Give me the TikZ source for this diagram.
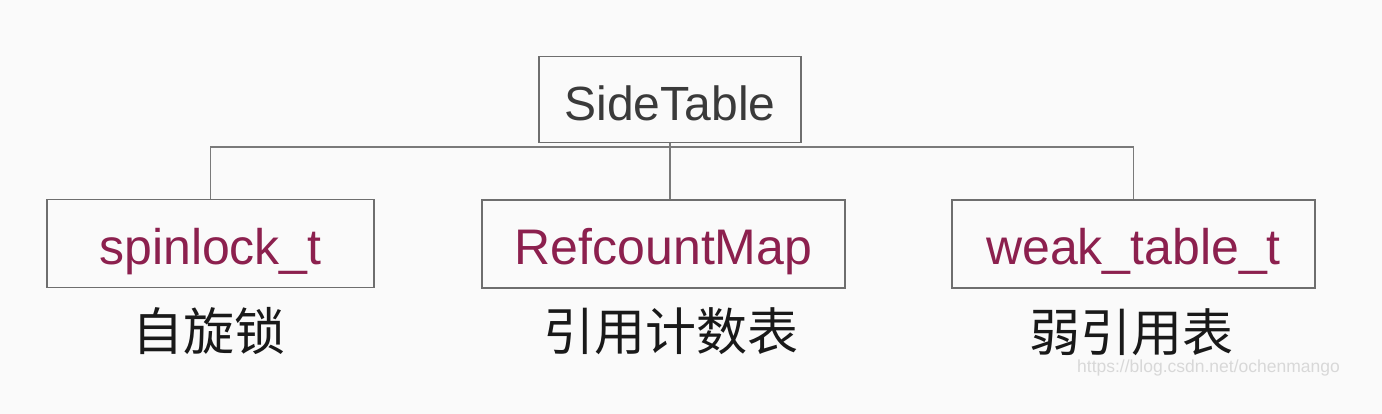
\documentclass[tikz,border=0pt]{standalone}
\usepackage{fontspec}
\setmainfont{Liberation Sans}
\newfontfamily\cjk{Noto Sans CJK SC}
\definecolor{bg}{HTML}{FAFAFA}
\definecolor{boxline}{HTML}{6E6E6E}
\definecolor{connline}{HTML}{7A7A7A}
\definecolor{maroon}{RGB}{140,32,78}
\definecolor{titlegray}{HTML}{3A3A3A}
\definecolor{wmark}{HTML}{D8D8D8}
\tikzset{
  boxnode/.style={draw=boxline, line width=1.8pt, rectangle, inner sep=0pt,
    text height=42pt, text depth=0pt, font=\fontsize{50}{50}\selectfont},
  childbox/.style={boxnode, minimum width=#1, minimum height=88pt, text=maroon},
  conn/.style={draw=connline, line width=1.5pt},
  cnlabel/.style={font=\cjk\fontsize{51}{51}\selectfont, text=black!90, inner sep=0pt}
}
\begin{document}
\begin{tikzpicture}[x=1pt,y=-1pt]
\fill[bg] (0,0) rectangle (1382,414);
\useasboundingbox (0,0) rectangle (1382,414);
\node[boxnode, minimum width=262pt, minimum height=86pt, text=titlegray,
  text height=43pt, font=\fontsize{48}{48}\selectfont] (side) at (670,99.5) {SideTable};
\node[childbox=327pt] (spin) at (210.5,243.5) {spinlock\_t};
\node[childbox=363pt] (ref) at (663.5,244) {RefcountMap};
\node[childbox=363pt] (weak) at (1133.5,244) {weak\_table\_t};
\coordinate (bus) at (670,147);
\draw[conn] (spin.north) |- (bus) -| (weak.north);
\draw[conn] (side.south) -- (ref.north -| side.south);
\node[cnlabel] (lspin) at (209,331) {自旋锁};
\node[cnlabel] (lref) at (671,331) {引用计数表};
\node[cnlabel] (lweak) at (1131,332) {弱引用表};
\node[font=\fontsize{17.5}{17.5}\selectfont, text=wmark, inner sep=0pt] (wm) at (1208.5,368) {https://blog.csdn.net/ochenmango};
\end{tikzpicture}
\end{document}
